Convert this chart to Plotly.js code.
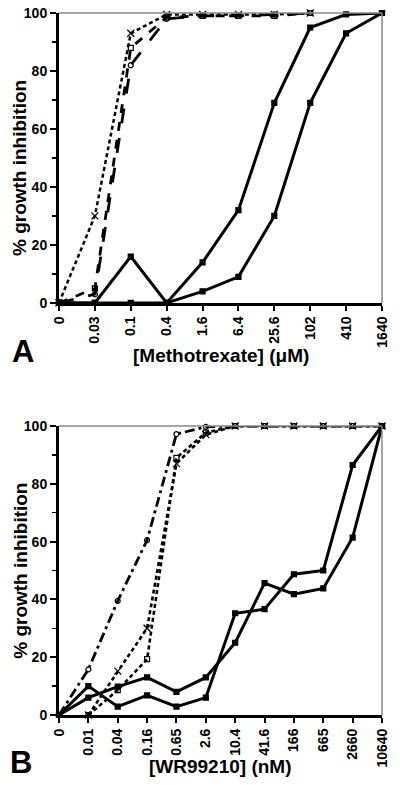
<!DOCTYPE html>
<html>
<head>
<meta charset="utf-8">
<script src="https://cdn.plot.ly/plotly-3.0.1.min.js"></script>
<style>
html,body{margin:0;padding:0;background:#fff;}
#chart{width:400px;height:785px;}
</style>
</head>
<body>
<div id="chart"></div>
<script>
// Panel A: Methotrexate (µM)
var catsA = ['0','0.03','0.1','0.4','1.6','6.4','25.6','102','410','1640'];
var aSolid1 = [0, 0, 16, 0, 14, 32, 69, 95, 99.5, 100];
var aSolid2 = [0, 0, 0, 0, 4, 9, 30, 69, 93, 100];
var aCross  = [0, 30, 93, 99.5, 99.5, 99.5, 99.5, 100, null, null];
var aSquare = [0, 5, 88, 98.5, 99, 99, 99, 100, null, null];
var aCircle = [0, 3, 82, 98, 99, 99, 99.5, 100, null, null];

// Panel B: WR99210 (nM)
var catsB = ['0','0.01','0.04','0.16','0.65','2.6','10.4','41.6','166','665','2660','10640'];
var bSolid1 = [0, 6, 9.8, 13, 8, 13, 25, 45.6, 41.8, 43.8, 61.4, 100];
var bSolid2 = [0, 10, 2.9, 6.8, 2.9, 6, 35.2, 36.6, 48.7, 50, 86.5, 100];
var bCircle = [0, 15.8, 39.5, 60.5, 97.2, 99.7, 100, 100, 100, 100, 100, 100];
var bSquare = [null, 0, 8.6, 19.3, 89, 97.7, 100, 100, 100, 100, 100, 100];
var bCross  = [null, 0, 15.2, 30, 87, 97, 100, 100, 100, 100, 100, 100];

var yTitle = '% growth inhibition';
var xTitleA = '[Methotrexate] (\u03bcM)';
var xTitleB = '[WR99210] (nM)';

function tr(x, y, xa, ya, dash, width, sym, size, fill) {
  return {
    type: 'scatter', mode: 'lines+markers', x: x, y: y, xaxis: xa, yaxis: ya,
    line: {color: '#000', width: width, dash: dash},
    marker: {symbol: sym, size: size, color: fill, line: {color: '#000', width: 1.2}},
    cliponaxis: false, connectgaps: false, showlegend: false, hoverinfo: 'skip'
  };
}

var data = [
  tr(catsA, aCircle, 'x', 'y', 'longdash', 2.8, 'circle-open', 5, '#000'),
  tr(catsA, aSquare, 'x', 'y', 'dash', 2.8, 'square-open', 5, '#000'),
  tr(catsA, aCross, 'x', 'y', '4px,3px', 2.5, 'x-thin-open', 7, '#000'),
  tr(catsA, aSolid1, 'x', 'y', 'solid', 3, 'square', 5, '#000'),
  tr(catsA, aSolid2, 'x', 'y', 'solid', 3, 'square', 5, '#000'),
  tr(catsB, bCircle, 'x2', 'y2', '10px,4px,3px,4px', 2.8, 'circle-open', 5, '#000'),
  tr(catsB, bSquare, 'x2', 'y2', '4px,3px', 2.6, 'square-open', 5, '#000'),
  tr(catsB, bCross, 'x2', 'y2', '4px,3px', 2.6, 'x-thin-open', 7, '#000'),
  tr(catsB, bSolid1, 'x2', 'y2', 'solid', 3, 'square', 5, '#000'),
  tr(catsB, bSolid2, 'x2', 'y2', 'solid', 3, 'square', 5, '#000')
];

var tickFont = {family: 'Liberation Sans, Arial, sans-serif', size: 14, color: '#000', weight: 'bold'};
var titleFont = {family: 'Liberation Sans, Arial, sans-serif', size: 19, color: '#000', weight: 'bold'};

function xAxis(cats, anchor) {
  return {
    type: 'category', anchor: anchor, range: [0, cats.length - 1],
    showgrid: false, zeroline: false, showline: true, linecolor: '#000', linewidth: 3,
    ticks: 'outside', ticklen: 5, tickwidth: 2, tickcolor: '#000',
    tickangle: -90, tickfont: tickFont, fixedrange: true
  };
}
function yAxis(domain, anchor) {
  return {
    domain: domain, anchor: anchor, range: [0, 100], tickvals: [0, 20, 40, 60, 80, 100],
    showgrid: false, zeroline: false, showline: true, linecolor: '#000', linewidth: 3,
    ticks: 'outside', ticklen: 6, tickwidth: 2, tickcolor: '#000',
    minor: {tickvals: [10, 30, 50, 70, 90], ticks: 'outside', ticklen: 4, tickwidth: 1.5, tickcolor: '#000', showgrid: false},
    tickfont: tickFont, fixedrange: true
  };
}

function border(xr, yr) {
  return [
    {type: 'line', xref: xr + ' domain', yref: yr + ' domain', x0: 0, x1: 1, y0: 1, y1: 1, line: {color: '#888', width: 1.5}},
    {type: 'line', xref: xr + ' domain', yref: yr + ' domain', x0: 1, x1: 1, y0: 0, y1: 1, line: {color: '#888', width: 1.5}}
  ];
}

var layout = {
  width: 400, height: 785,
  margin: {l: 59, r: 18, t: 13, b: 70},
  paper_bgcolor: '#fff', plot_bgcolor: '#fff',
  showlegend: false,
  xaxis: xAxis(catsA, 'y'),
  yaxis: yAxis([0.587, 1], 'x'),
  xaxis2: xAxis(catsB, 'y2'),
  yaxis2: yAxis([0, 0.4117], 'x2'),
  shapes: border('x', 'y').concat(border('x2', 'y2')),
  annotations: [
    {xref: 'paper', yref: 'paper', x: -0.12, y: 0.7795, text: yTitle, textangle: -90, showarrow: false, font: titleFont, xanchor: 'center', yanchor: 'middle'},
    {xref: 'paper', yref: 'paper', x: -0.12, y: 0.2058, text: yTitle, textangle: -90, showarrow: false, font: titleFont, xanchor: 'center', yanchor: 'middle'},
    {xref: 'paper', yref: 'paper', x: 0.5, y: (715 - 355) / 702, text: xTitleA, showarrow: false, font: titleFont, xanchor: 'center', yanchor: 'middle'},
    {xref: 'paper', yref: 'paper', x: 0.5, y: (715 - 767) / 702, text: xTitleB, showarrow: false, font: titleFont, xanchor: 'center', yanchor: 'middle'},
    {xref: 'paper', yref: 'paper', x: (23 - 59) / 322.7, y: (715 - 351) / 702, text: 'A', showarrow: false, font: {family: 'Liberation Sans, Arial, sans-serif', size: 31, color: '#000', weight: 'bold'}, xanchor: 'center', yanchor: 'middle'},
    {xref: 'paper', yref: 'paper', x: (21 - 59) / 322.7, y: (715 - 762) / 702, text: 'B', showarrow: false, font: {family: 'Liberation Sans, Arial, sans-serif', size: 31, color: '#000', weight: 'bold'}, xanchor: 'center', yanchor: 'middle'}
  ]
};

Plotly.newPlot('chart', data, layout, {displayModeBar: false, staticPlot: true});
</script>
</body>
</html>
